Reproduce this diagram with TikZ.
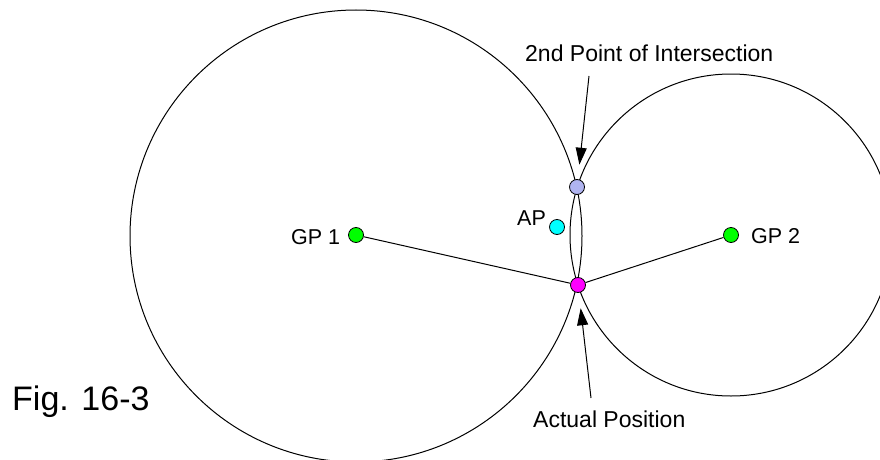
\documentclass[tikz,border=0pt]{standalone}
\usepackage{fontspec}
\setmainfont{Liberation Sans}
\usetikzlibrary{arrows.meta}
\definecolor{ptlav}{RGB}{176,180,240}
\definecolor{ptmag}{RGB}{255,0,255}
\definecolor{ptcyan}{RGB}{0,255,255}
\definecolor{ptgreen}{RGB}{0,255,0}
\begin{document}
\begin{tikzpicture}[x=1pt,y=-1pt,
  lbl/.style={inner sep=0pt,anchor=base west,font=\fontsize{23}{27}\selectfont},
  slbl/.style={inner sep=0pt,anchor=base west,font=\fontsize{21.5}{26}\selectfont},
  dot/.style={circle,draw=black,line width=0.8pt,minimum size=15pt,inner sep=0pt},
  conn/.style={draw=black,line width=1pt},
  pointer/.style={draw=black,line width=1pt,-{Triangle[length=17pt,width=11pt]}},
  ring/.style={draw=black,line width=1pt}]
\useasboundingbox[fill=white] (0,0) rectangle (880,460);
\coordinate (c1) at (356,236);
\coordinate (c2) at (731,235);
\begin{scope}
\clip (0,0) rectangle (880,460);
\draw[ring] (c1) circle[radius=226];
\draw[ring] (c2) circle[radius=161];
\end{scope}
\node[dot,fill=ptlav] (p2) at (577,187) {};
\node[dot,fill=ptmag] (pa) at (578,285) {};
\node[dot,fill=ptcyan] (ap) at (557,227) {};
\node[dot,fill=ptgreen] (gp1) at (356,235) {};
\node[dot,fill=ptgreen] (gp2) at (731,235) {};
\draw[conn] (gp1) -- (pa);
\draw[conn] (pa) -- (gp2);
\coordinate (t1) at (589,76);
\coordinate (t2) at (591,398);
\draw[pointer,shorten >=14.5pt] (t1) -- (p2);
\draw[pointer,shorten >=15.5pt] (t2) -- (pa);
\node[lbl] (l2nd) at (525,61) {2nd Point of Intersection};
\node[lbl] (lact) at (533,427) {Actual Position};
\node[slbl] (lgp1) at (291,244) {GP 1};
\node[slbl] (lgp2) at (751,243) {GP 2};
\node[slbl] (lap) at (517,225) {AP};
\node[inner sep=0pt,anchor=base west,font=\fontsize{34}{40}\selectfont] (lfig) at (12,410) {Fig. 16-3};
\end{tikzpicture}
\end{document}
